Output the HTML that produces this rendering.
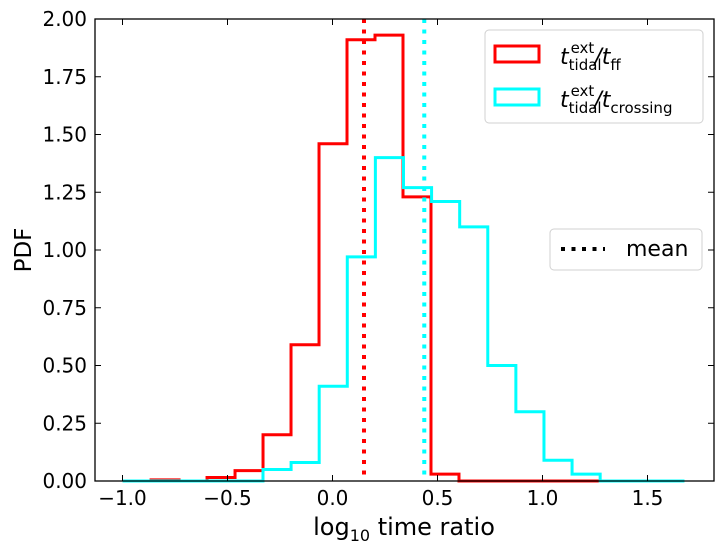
<!DOCTYPE html>
<html><head><meta charset="utf-8"><style>
body{margin:0;background:#fff}
svg text{font-family:"DejaVu Sans","Liberation Sans",sans-serif;fill:#000}
</style></head><body>
<svg id="chart" width="723" height="552" xmlns="http://www.w3.org/2000/svg">
<g id="plot"></g>
</svg>
<script>
const redStart=-0.864, redWidth=0.1333;
const redValues=[0.005,0,0.015,0.045,0.2,0.59,1.46,1.91,1.93,1.23,0.03,0,0,0,0,0,0];
const cyanStart=-1.0, cyanWidth=0.1338;
const cyanValues=[0,0,0,0,0,0.05,0.08,0.41,0.97,1.40,1.27,1.21,1.10,0.50,0.30,0.09,0.03,0,0,0];
const meanValues=[0.15,0.437];
const xTicks=[-1.0,-0.5,0.0,0.5,1.0,1.5];
const yTicks=[0,0.25,0.5,0.75,1.0,1.25,1.5,1.75,2.0];
const L=95,R=714,T=19,B=481;
const X=v=>332.5+v*210, Y=v=>B-(v/2)*(B-T);
const NS='http://www.w3.org/2000/svg';
const g=document.getElementById('plot');
function mk(t,a,p){const e=document.createElementNS(NS,t);for(const k in a)e.setAttribute(k,a[k]);(p||g).appendChild(e);return e;}
function step(start,w,vals,color,name){
  let d='M'+X(start)+','+Y(0);
  vals.forEach((v,i)=>{d+=' L'+X(start+i*w)+','+Y(v)+' L'+X(start+(i+1)*w)+','+Y(v);});
  d+=' L'+X(start+vals.length*w)+','+Y(0);
  const p=mk('path',{d:d,fill:'none',stroke:color,'stroke-width':3,'stroke-linejoin':'miter'});
  
  
}
step(redStart,redWidth,redValues,'#ff0000','red-histogram');
step(cyanStart,cyanWidth,cyanValues,'#00ffff','cyan-histogram');
['#ff0000','#00ffff'].forEach((c,i)=>{
  const l=mk('line',{x1:X(meanValues[i]),x2:X(meanValues[i]),y1:T,y2:B,stroke:c,'stroke-width':4,'stroke-dasharray':'4 6.5'});
  
  
});
const fr=mk('rect',{x:L,y:T,width:R-L,height:B-T,fill:'none',stroke:'#000','stroke-width':1.3});


xTicks.forEach(v=>{
  mk('line',{x1:X(v),x2:X(v),y1:B,y2:B-6,stroke:'#000'});
  mk('line',{x1:X(v),x2:X(v),y1:T,y2:T+6,stroke:'#000'});
  const t=mk('text',{x:X(v),y:505,'text-anchor':'middle','font-size':20});
  t.textContent=(v<0?'\u2212':'')+Math.abs(v).toFixed(1);
  
  
});
yTicks.forEach(v=>{
  mk('line',{x1:L,x2:L+6,y1:Y(v),y2:Y(v),stroke:'#000'});
  mk('line',{x1:R,x2:R-6,y1:Y(v),y2:Y(v),stroke:'#000'});
  const t=mk('text',{x:87,y:Y(v)+7,'text-anchor':'end','font-size':20});
  t.textContent=v.toFixed(2);
  
  
});
</script>
<svg style="position:absolute;left:0;top:0" width="723" height="552" xmlns="http://www.w3.org/2000/svg">
<text x="404" y="535" text-anchor="middle" font-size="24">log<tspan font-size="16" dy="6">10</tspan><tspan dy="-6"> time ratio</tspan></text>
<text transform="translate(31,250) rotate(-90)" text-anchor="middle" font-size="23">PDF</text>
<g>
<rect x="485" y="30" width="218" height="93" rx="4" fill="#fff" stroke="#d0d0d0"/>
<rect x="495" y="46" width="44" height="16" fill="none" stroke="#ff0000" stroke-width="3"/>
<text x="560" y="64" font-size="22" font-style="italic">t<tspan font-style="normal" font-size="15" dy="6">tidal</tspan><tspan font-style="normal" font-size="15" dx="-31" dy="-17">ext</tspan><tspan dy="11">/</tspan><tspan dy="0">t</tspan><tspan font-style="normal" font-size="15" dy="6">ff</tspan></text>
<rect x="495" y="89" width="44" height="16" fill="none" stroke="#00ffff" stroke-width="3"/>
<text x="560" y="107" font-size="22" font-style="italic">t<tspan font-style="normal" font-size="15" dy="6">tidal</tspan><tspan font-style="normal" font-size="15" dx="-31" dy="-17">ext</tspan><tspan dy="11">/</tspan><tspan dy="0">t</tspan><tspan font-style="normal" font-size="15" dy="6">crossing</tspan></text>
</g>
<g>
<rect x="550" y="229" width="152" height="41" rx="4" fill="#fff" stroke="#d0d0d0"/>
<line x1="561" x2="605" y1="249" y2="249" stroke="#000" stroke-width="4" stroke-dasharray="4 6.5"/>
<text x="626" y="256" font-size="22">mean</text>
</g>
</svg>
</body></html>
